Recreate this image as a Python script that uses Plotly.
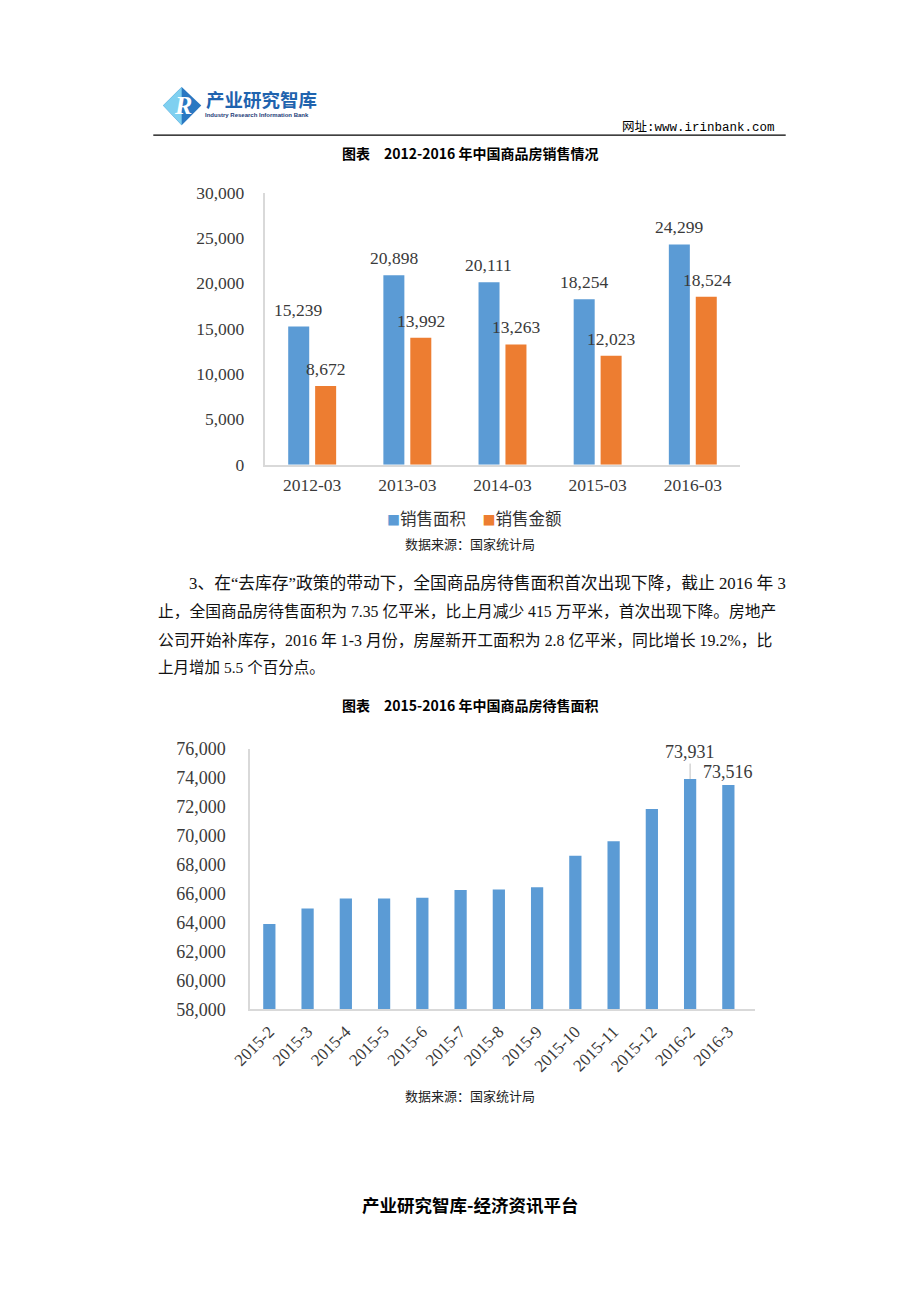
import plotly.graph_objects as go

# ---------------- data ----------------
categories1 = ["2012-03", "2013-03", "2014-03", "2015-03", "2016-03"]
sales_area = [15239, 20898, 20111, 18254, 24299]      # 销售面积
sales_amount = [8672, 13992, 13263, 12023, 18524]     # 销售金额
series1_names = ["销售面积", "销售金额"]
y1_ticks = [0, 5000, 10000, 15000, 20000, 25000, 30000]

months2 = ["2015-2", "2015-3", "2015-4", "2015-5", "2015-6", "2015-7", "2015-8",
           "2015-9", "2015-10", "2015-11", "2015-12", "2016-2", "2016-3"]
unsold_area = [63900, 64983, 65666, 65662, 65727, 66264, 66295,
               66447, 68632, 69637, 71853, 73931, 73516]   # 待售面积
y2_ticks = [58000, 60000, 62000, 64000, 66000, 68000, 70000, 72000, 74000, 76000]

# ---------------- style ----------------
PAGE_W, PAGE_H = 920, 1302
BODY_MARGIN = 8                      # default browser body margin
W, H = PAGE_W - 2 * BODY_MARGIN, PAGE_H - 2 * BODY_MARGIN
BLUE = "#5B9BD5"
ORANGE = "#ED7D31"
AXIS = "#D9D9D9"
SERIF = "Liberation Serif, Times New Roman, serif"
TICK1 = dict(family=SERIF, size=17.5, color="#3a3a3a")
TICK2 = dict(family=SERIF, size=18, color="#3a3a3a")
CJK = "Noto Sans CJK SC"
MIXED = "Liberation Serif, Noto Sans CJK SC"


def px(x):
    """page pixel x -> paper fraction"""
    return (x - BODY_MARGIN) / W


def py(y):
    """page pixel y -> paper fraction"""
    return 1 - (y - BODY_MARGIN) / H


fig = go.Figure()
fig.add_trace(go.Bar(x=categories1, y=sales_area, name=series1_names[0], marker_color=BLUE,
                     marker_line_width=0, xaxis="x", yaxis="y"))
fig.add_trace(go.Bar(x=categories1, y=sales_amount, name=series1_names[1], marker_color=ORANGE,
                     marker_line_width=0, xaxis="x", yaxis="y"))
fig.add_trace(go.Bar(x=months2, y=unsold_area, name="待售面积", marker_color=BLUE,
                     marker_line_width=0, width=0.32, xaxis="x2", yaxis="y2"))

annotations = []

# data labels chart 1
for c, v in zip(categories1, sales_area):
    annotations.append(dict(x=c, y=v, xref="x", yref="y", text=f"{v:,}", showarrow=False,
                            xshift=-13.75, yshift=17, yanchor="middle", font=TICK1))
for c, v in zip(categories1, sales_amount):
    annotations.append(dict(x=c, y=v, xref="x", yref="y", text=f"{v:,}", showarrow=False,
                            xshift=13.75, yshift=17, yanchor="middle", font=TICK1))

# data labels chart 2 (last two points)
annotations.append(dict(x=months2[11], y=unsold_area[11], xref="x2", yref="y2",
                        text=f"{unsold_area[11]:,}", showarrow=True, arrowhead=0,
                        arrowwidth=1, arrowcolor="#BFBFBF", ax=0, ay=-27, standoff=0,
                        font=TICK2))
annotations.append(dict(x=months2[12], y=unsold_area[12], xref="x2", yref="y2",
                        text=f"{unsold_area[12]:,}", showarrow=False, yanchor="middle",
                        yshift=13, font=TICK2))


def text(x, y, s, size, family=MIXED, color="#000", anchor="center", bold=False):
    if bold:
        s = f"<b>{s}</b>"
    annotations.append(dict(x=px(x), y=py(y), xref="paper", yref="paper", text=s,
                            showarrow=False, xanchor=anchor, yanchor="middle",
                            font=dict(family=family, size=size, color=color)))


# header
text(189, 90, "产业研究智库", 18.5, family=CJK, color="#1F63AE", anchor="left", bold=True)
text(188, 107, "Industry Research Information Bank", 6, family="Liberation Sans, Arial",
     color="#1D3C78", anchor="left", bold=True)
annotations.append(dict(x=px(167), y=py(97), xref="paper", yref="paper", text="<b><i>R</i></b>",
                        showarrow=False, xanchor="center", yanchor="middle",
                        font=dict(family="Liberation Serif", size=26, color="#FFFFFF")))
text(774, 119, "网址:www.irinbank.com", 12.5, family="Liberation Mono, Noto Sans CJK SC",
     anchor="right")

# titles
text(460, 145, "图表　2012-2016 年中国商品房销售情况", 14, family=CJK, bold=True)
text(460, 706, "图表　2015-2016 年中国商品房待售面积", 14, family=CJK, bold=True)

# legend for chart 1 (coloured squares + names)
legend_txt = (f"<span style='color:{BLUE};font-size:13px'>■</span>{series1_names[0]}"
              f"　<span style='color:{ORANGE};font-size:13px'>■</span>{series1_names[1]}")
text(465, 516, legend_txt, 16.5, family=CJK, color="#333")

# sources
text(460, 542, "数据来源：国家统计局", 13, family=CJK, color="#222")
text(460, 1103, "数据来源：国家统计局", 13, family=CJK, color="#222")

# paragraph (justified lines in the original -> per-line size to fill the column)
para = [
    (171, 582, 16.75, "3、在“去库存”政策的带动下，全国商品房待售面积首次出现下降，截止 2016 年 3"),
    (140, 611, 15.75, "止，全国商品房待售面积为 7.35 亿平米，比上月减少 415 万平米，首次出现下降。房地产"),
    (140, 640, 15.9, "公司开始补库存，2016 年 1-3 月份，房屋新开工面积为 2.8 亿平米，同比增长 19.2%，比"),
    (140, 668, 15.5, "上月增加 5.5 个百分点。"),
]
for x, y, size, s in para:
    text(x, y, s, size, anchor="left", color="#111")

# footer
text(460, 1213, "产业研究智库-经济资讯平台", 17.5, family=CJK, bold=True)

shapes = [
    # header rule
    dict(type="line", xref="paper", yref="paper", x0=px(137), x1=px(783), y0=py(127), y1=py(127),
         line=dict(color="#000", width=1.3)),
    # logo diamond
    dict(type="path", xref="paper", yref="paper",
         path=f"M {px(166)} {py(78)} L {px(186)} {py(97)} L {px(166)} {py(117)} L {px(147)} {py(97)} Z",
         fillcolor="#2A78C2", line=dict(width=0)),
    dict(type="path", xref="paper", yref="paper",
         path=f"M {px(166)} {py(78)} L {px(166)} {py(117)} L {px(147)} {py(97)} Z",
         fillcolor="#7FD0F0", line=dict(width=0)),
]

axis_common = dict(showgrid=False, zeroline=False, showline=True, linecolor=AXIS, linewidth=1.5,
                   ticks="")

fig.update_layout(
    width=W, height=H, margin=dict(l=0, r=0, t=0, b=0),
    paper_bgcolor="white", plot_bgcolor="white",
    barmode="group", bargap=0.434, bargroupgap=0.22,
    showlegend=False,
    xaxis=dict(domain=[px(250.7), px(736.7)], anchor="y", type="category",
               ticklabelstandoff=4, tickfont=TICK1, **axis_common),
    yaxis=dict(domain=[py(461.7), py(185.5)], anchor="x", range=[0, 30000],
               tickvals=y1_ticks, tickformat=",", ticklabelstandoff=15, tickfont=TICK1,
               **axis_common),
    xaxis2=dict(domain=[px(236), px(752)], anchor="y2", type="category", tickangle=-45,
                ticklabelstandoff=4, tickfont=dict(TICK2, size=17), **axis_common),
    yaxis2=dict(domain=[py(1015), py(750.7)], anchor="x2", range=[58000, 76000],
                tickvals=y2_ticks, tickformat=",", ticklabelstandoff=19, tickfont=TICK2,
                **axis_common),
    annotations=annotations,
    shapes=shapes,
)

fig.write_html("out.html", config={"displayModeBar": False})
